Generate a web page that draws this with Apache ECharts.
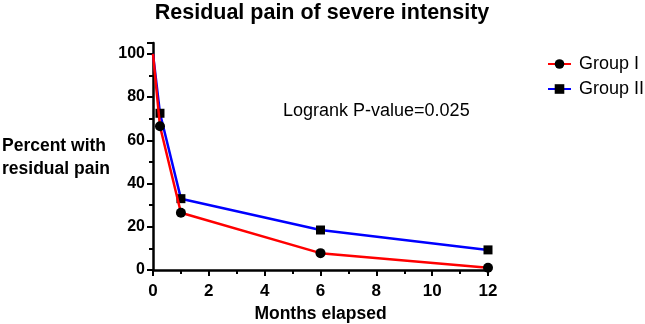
<!DOCTYPE html>
<html>
<head>
<meta charset="utf-8">
<script src="https://cdn.jsdelivr.net/npm/echarts@6/dist/echarts.min.js"></script>
<style>
  html, body { margin: 0; padding: 0; background: #fff; }
  #chart { width: 645px; height: 324px; }
</style>
</head>
<body>
<div id="chart"></div>
<script>
  // data (months, percent)
  var months = [0, 0.25, 1, 6, 12];
  var groupI = [100, 66.5, 26.5, 7.8, 1];
  var groupII = [100, 72.5, 33, 18.5, 9.3];
  var seriesNames = ['Group I', 'Group II'];
  var pvalueText = 'Logrank P-value=0.025';

  // start point (0, 100) is drawn without a marker
  function pairs(xs, ys){
    var out = [];
    for(var i = 0; i < xs.length; i++){
      if(i === 0){
        out.push({ value: [xs[i], ys[i]], symbol: 'none' });
      }else{
        out.push([xs[i], ys[i]]);
      }
    }
    return out;
  }

  var font = 'Liberation Sans, Arial, sans-serif';
  var chart = echarts.init(document.getElementById('chart'));
  chart.setOption({
    animation: false,
    backgroundColor: '#fff',
    title: {
      text: 'Residual pain of severe intensity',
      left: 317, top: -3, textAlign: 'center',
      textStyle: { fontFamily: font, fontSize: 21.5, fontWeight: 'bold', color: '#000' }
    },
    legend: {
      orient: 'vertical',
      left: 542, top: 50,
      itemWidth: 23, itemHeight: 12, itemGap: 7,
      data: seriesNames,
      textStyle: { fontFamily: font, fontSize: 18, color: '#000', padding: [0, 0, 0, 3] }
    },
    grid: { left: 153, right: 157, top: 43, bottom: 54, containLabel: false, outerBoundsMode: 'none' },
    xAxis: {
      type: 'value',
      min: 0, max: 12, interval: 2,
      name: 'Months elapsed',
      nameLocation: 'middle', nameGap: 35,
      nameTextStyle: { fontFamily: font, fontSize: 17.5, fontWeight: 'bold', color: '#000' },
      axisLine: { lineStyle: { color: '#000', width: 2.5 } },
      axisTick: { length: 6, lineStyle: { color: '#000', width: 2 } },
      minorTick: { show: true, splitNumber: 2, length: 4, lineStyle: { color: '#000', width: 2 } },
      axisLabel: { fontFamily: font, fontSize: 17, fontWeight: 'bold', color: '#000', margin: 13 },
      splitLine: { show: false }
    },
    yAxis: {
      type: 'value',
      min: 0, max: 105, interval: 20,
      axisLine: { show: true, lineStyle: { color: '#000', width: 2.5 } },
      axisTick: { show: true, length: 6, lineStyle: { color: '#000', width: 2 } },
      minorTick: { show: true, splitNumber: 2, length: 4, lineStyle: { color: '#000', width: 2 } },
      axisLabel: {
        fontFamily: font, fontSize: 16, fontWeight: 'bold', color: '#000', margin: 8,
        formatter: function(v){ return v % 20 === 0 ? v : ''; }
      },
      splitLine: { show: false }
    },
    graphic: [
      {
        type: 'text', left: 283, top: 102,
        style: { text: pvalueText, font: '18px ' + font, fill: '#000' }
      },
      {
        type: 'text', left: 2, top: 135,
        style: { text: 'Percent with\nresidual pain', font: 'bold 17.5px ' + font, fill: '#000', lineHeight: 23 }
      }
    ],
    series: [
      {
        name: seriesNames[0], type: 'line',
        data: pairs(months, groupI),
        symbol: 'circle', symbolSize: 10,
        itemStyle: { color: '#000' },
        lineStyle: { color: '#ff0000', width: 2.5 },
        z: 3
      },
      {
        name: seriesNames[1], type: 'line',
        data: pairs(months, groupII),
        symbol: 'rect', symbolSize: 9,
        itemStyle: { color: '#000' },
        lineStyle: { color: '#0000ff', width: 2.5 },
        z: 2
      }
    ]
  });
</script>
</body>
</html>
